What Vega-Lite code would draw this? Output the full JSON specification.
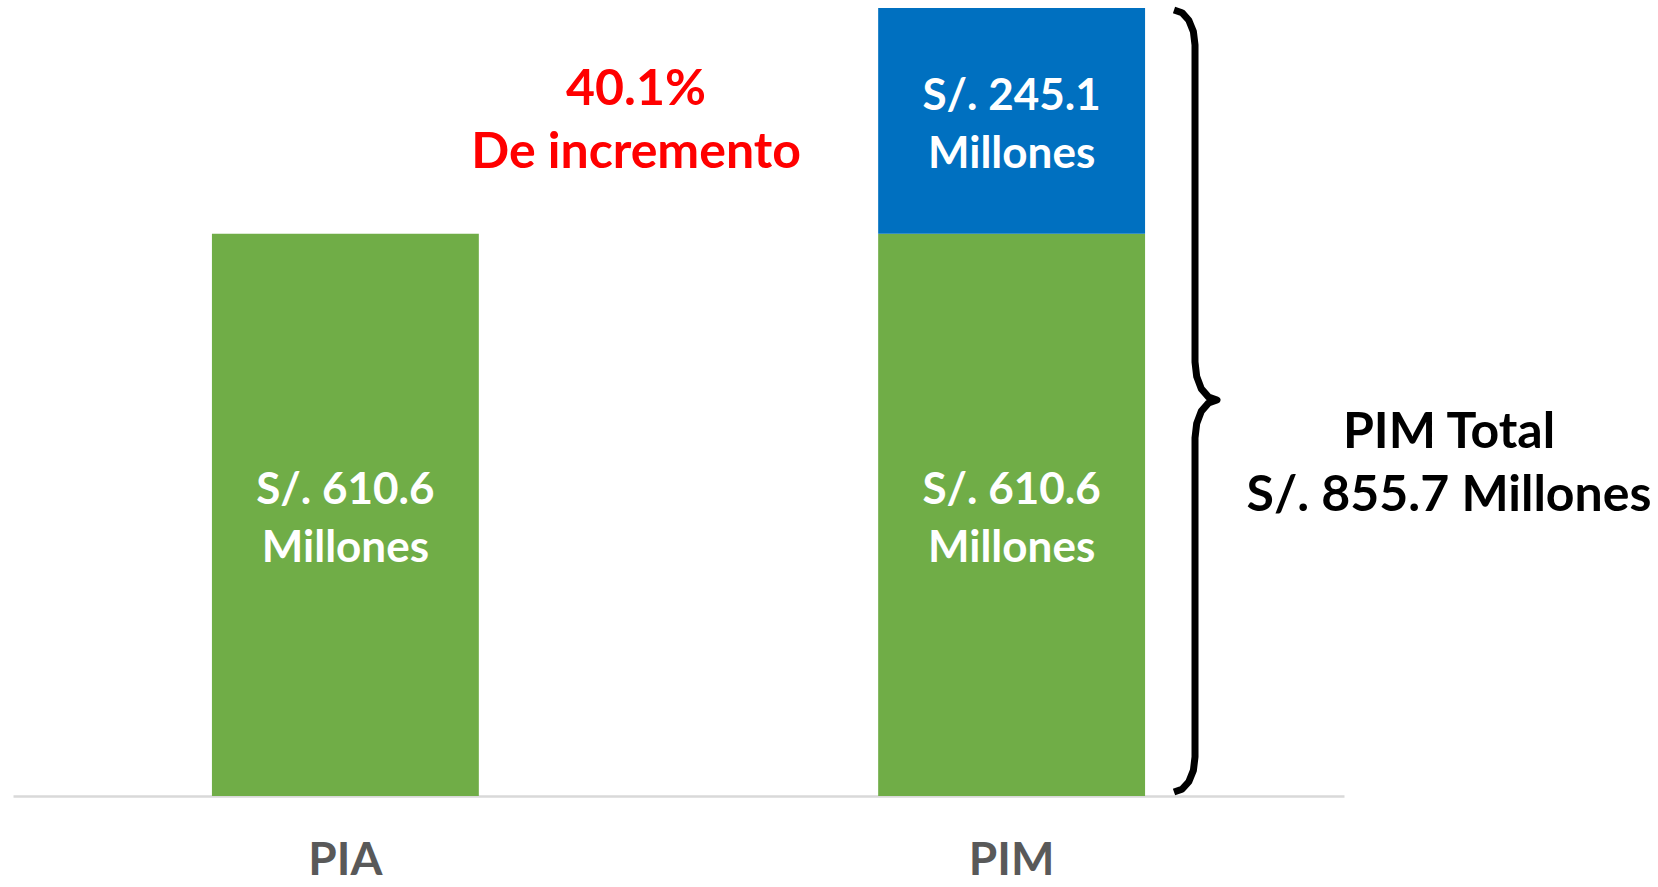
{
  "$schema": "https://vega.github.io/schema/vega-lite/v6.json",
  "width": 1331,
  "height": 796,
  "autosize": {"type": "none"},
  "padding": {"left": 13, "right": 314, "top": 0, "bottom": 91},
  "background": "#ffffff",
  "config": {"view": {"stroke": null}, "font": "Lato"},
  "datasets": {
    "bars": [
      {"cat": "PIA", "part": "Base", "start": 0, "end": 610.6},
      {"cat": "PIM", "part": "Base", "start": 0, "end": 610.6},
      {"cat": "PIM", "part": "Incremento", "start": 610.6, "end": 855.7}
    ],
    "barlabels": [
      {"cat": "PIA", "mid": 331, "lines": ["S/. 610.6", "Millones"]},
      {"cat": "PIM", "mid": 331, "lines": ["S/. 610.6", "Millones"]},
      {"cat": "PIM", "mid": 759, "lines": ["S/. 245.1", "Millones"]}
    ],
    "brace": [
      {"i": 1, "pos": 87.228, "v": 853.5},
      {"i": 2, "pos": 87.829, "v": 850.6},
      {"i": 3, "pos": 88.34, "v": 842.4},
      {"i": 4, "pos": 88.685, "v": 830.1},
      {"i": 5, "pos": 88.806, "v": 815.5},
      {"i": 6, "pos": 88.806, "v": 471.3},
      {"i": 7, "pos": 88.933, "v": 455.5},
      {"i": 8, "pos": 89.286, "v": 442.1},
      {"i": 9, "pos": 89.827, "v": 433.2},
      {"i": 10, "pos": 90.458, "v": 430.0},
      {"i": 11, "pos": 89.827, "v": 426.9},
      {"i": 12, "pos": 89.286, "v": 418.0},
      {"i": 13, "pos": 88.933, "v": 404.5},
      {"i": 14, "pos": 88.806, "v": 388.8},
      {"i": 15, "pos": 88.806, "v": 42.4},
      {"i": 16, "pos": 88.685, "v": 27.8},
      {"i": 17, "pos": 88.34, "v": 15.5},
      {"i": 18, "pos": 87.829, "v": 7.3},
      {"i": 19, "pos": 87.228, "v": 4.3}
    ],
    "notes": [
      {"pos": 46.81, "v": 767, "lines": ["40.1%", "De incremento"], "kind": "red"},
      {"pos": 107.89, "v": 394, "lines": ["PIM Total", "S/. 855.7 Millones"], "kind": "black"}
    ]
  },
  "layer": [
    {
      "layer": [
        {
          "data": {"name": "bars"},
          "mark": {"type": "bar"},
          "encoding": {
            "x": {
              "field": "cat", "type": "nominal", "sort": ["PIA", "PIM"],
              "scale": {"paddingInner": 0.5994, "paddingOuter": 0.2986},
              "axis": {
                "title": null, "ticks": false, "labelAngle": 0,
                "domainColor": "#d9d9d9", "domainWidth": 2.5,
                "labelFont": "Lato", "labelFontWeight": "bold", "labelFontSize": 46,
                "labelColor": "#595959", "labelPadding": 42
              }
            },
            "y": {"field": "end", "type": "quantitative", "scale": {"domain": [0, 864.4], "nice": false}, "axis": null},
            "y2": {"field": "start"},
            "color": {
              "field": "part", "type": "nominal",
              "scale": {"domain": ["Base", "Incremento"], "range": ["#70ad47", "#0070c0"]},
              "legend": null
            }
          }
        },
        {
          "data": {"name": "barlabels"},
          "mark": {"type": "text", "font": "Lato", "fontWeight": "bold", "fontSize": 44, "color": "#ffffff", "lineHeight": 58, "align": "center", "baseline": "middle"},
          "encoding": {
            "x": {"field": "cat", "type": "nominal", "sort": ["PIA", "PIM"]},
            "y": {"field": "mid", "type": "quantitative"},
            "text": {"field": "lines"}
          }
        }
      ]
    },
    {
      "layer": [
        {
          "data": {"name": "brace"},
          "mark": {"type": "line", "color": "#000000", "strokeWidth": 7, "interpolate": "linear", "strokeJoin": "round"},
          "encoding": {
            "x": {"field": "pos", "type": "quantitative", "scale": {"domain": [0, 100], "nice": false, "zero": false}, "axis": null},
            "y": {"field": "v", "type": "quantitative"},
            "order": {"field": "i", "type": "quantitative"}
          }
        },
        {
          "data": {"name": "notes"},
          "mark": {"type": "text", "font": "Lato", "fontWeight": "bold", "fontSize": 50, "lineHeight": 63, "align": "center", "baseline": "middle"},
          "encoding": {
            "x": {"field": "pos", "type": "quantitative"},
            "y": {"field": "v", "type": "quantitative"},
            "text": {"field": "lines"},
            "color": {
              "field": "kind", "type": "nominal",
              "scale": {"domain": ["red", "black"], "range": ["#ff0000", "#000000"]},
              "legend": null
            }
          }
        }
      ]
    }
  ],
  "resolve": {"scale": {"x": "independent", "color": "independent"}}
}
